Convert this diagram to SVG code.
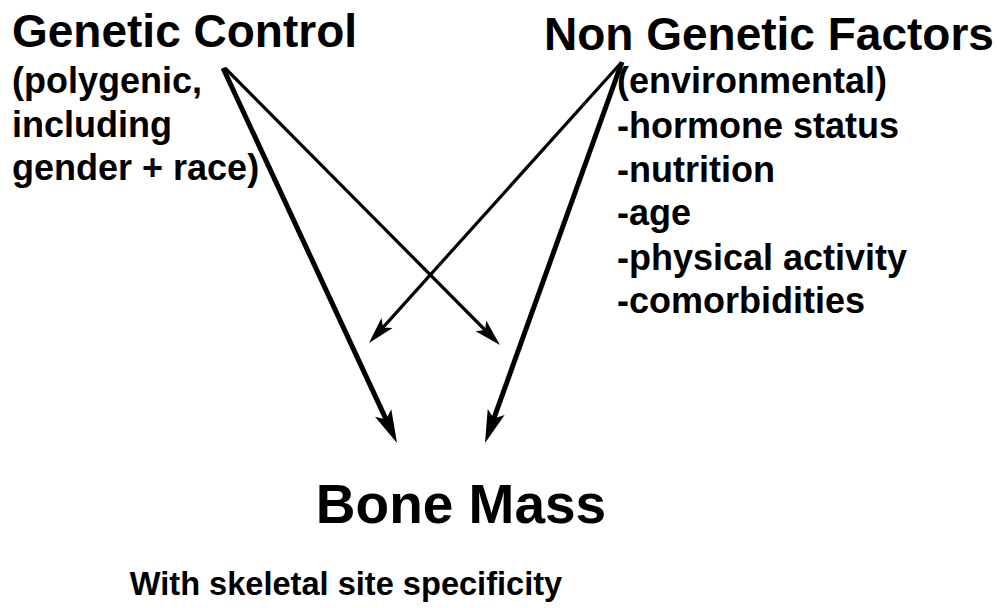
<svg xmlns="http://www.w3.org/2000/svg" width="997" height="608" viewBox="0 0 997 608">
<style>
text{font-family:"Liberation Sans",Arial,Helvetica,sans-serif;font-weight:bold;fill:#000}
.h{font-size:46px}
.s{font-size:36px}
.b{font-size:55px}
.w{font-size:32.6px}
.thick{stroke:#000;stroke-width:5;fill:none}
.thin{stroke:#000;stroke-width:3.2;fill:none}
</style>
<defs>
<marker id="ahThick" markerUnits="userSpaceOnUse" viewBox="-34 -11 36 22" markerWidth="36" markerHeight="22" refX="-15" refY="0" orient="auto">
<path d="M0,0 L-33,-9 L-26,0 L-33,9 Z" fill="#000"/>
</marker>
<marker id="ahThin" markerUnits="userSpaceOnUse" viewBox="-30 -10 32 20" markerWidth="32" markerHeight="20" refX="-12" refY="0" orient="auto">
<path d="M0,0 L-27,-7.5 L-21,0 L-27,7.5 Z" fill="#000"/>
</marker>
</defs>
<rect width="997" height="608" fill="#fff"/>
<g id="genetic">
<text class="h" x="12" y="47">Genetic Control</text>
<text class="s" x="12" y="93">(polygenic,</text>
<text class="s" x="12" y="137">including</text>
<text class="s" x="12" y="180">gender + race)</text>
</g>
<g id="nongenetic">
<text class="h" x="544" y="50">Non Genetic Factors</text>
<text class="s" x="617" y="93">(environmental)</text>
<text class="s" x="617" y="138">-hormone status</text>
<text class="s" x="617" y="182">-nutrition</text>
<text class="s" x="617" y="225">-age</text>
<text class="s" x="617" y="270">-physical activity</text>
<text class="s" x="617" y="313">-comorbidities</text>
</g>
<g id="bonemass">
<text class="b" x="461" y="523" text-anchor="middle">Bone Mass</text>
<text class="w" x="346" y="595" text-anchor="middle">With skeletal site specificity</text>
</g>
<g id="connectors">
<line class="thick" x1="223" y1="68" x2="390.7" y2="429.4" marker-end="url(#ahThick)"/>
<line class="thin" x1="225" y1="68" x2="491.5" y2="336.5" marker-end="url(#ahThin)"/>
<line class="thin" x1="620" y1="64" x2="377" y2="334.1" marker-end="url(#ahThin)"/>
<line class="thick" x1="622" y1="62" x2="490.1" y2="428.9" marker-end="url(#ahThick)"/>
</g>
</svg>
